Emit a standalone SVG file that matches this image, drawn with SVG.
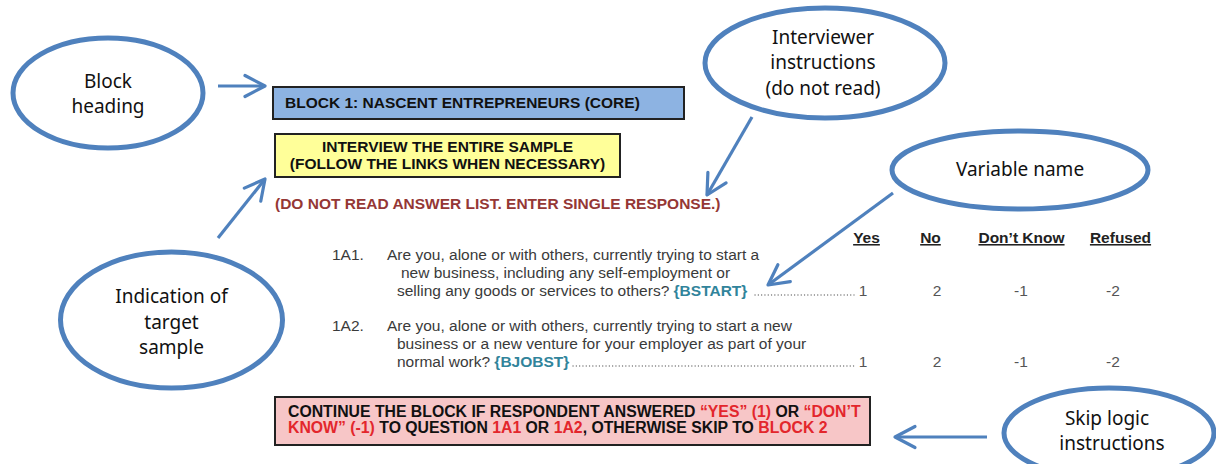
<svg xmlns="http://www.w3.org/2000/svg" width="1216" height="464" viewBox="0 0 1216 464">
<style>
.bubble{fill:#ffffff;stroke:#4f81bd;stroke-width:5}
.bt{font-family:"Noto Sans","Open Sans",sans-serif;font-size:19px;fill:#111111;text-anchor:middle}
.conn{stroke:#4f81bd;stroke-width:3.2;fill:none;marker-end:url(#chev)}
.box{stroke:#222222;stroke-width:2}
.b{font-family:"Liberation Sans",Arial,sans-serif;font-weight:bold;font-size:15.5px;fill:#111111}
.q{font-family:"Liberation Sans",Arial,sans-serif;font-size:15.5px;fill:#3a3a3a}
.var{font-weight:bold;fill:#31849b}
.red{fill:#e3262c}
.hd{font-family:"Liberation Sans",Arial,sans-serif;font-weight:bold;font-size:15.5px;fill:#222222;text-anchor:middle;text-decoration:underline}
.val{font-family:"Liberation Sans",Arial,sans-serif;font-size:15.5px;fill:#555555;text-anchor:middle}
.dots{stroke:#777777;stroke-width:1.3;stroke-dasharray:0.1 3.2;stroke-linecap:round;fill:none}
</style>
<defs>
<marker id="chev" markerUnits="userSpaceOnUse" viewBox="-24 -14 28 28" refX="0" refY="0" markerWidth="28" markerHeight="28" orient="auto">
<path d="M-20,-10.5 L0,0 L-20,10.5" fill="none" stroke="#4f81bd" stroke-width="3.2" stroke-linejoin="round" stroke-linecap="round"/>
</marker>
</defs>
<rect x="0" y="0" width="1216" height="464" fill="#ffffff"/>

<g id="connectors">
<path class="conn" d="M218,86 L265,86"/>
<path class="conn" d="M218,238 L265,179"/>
<path class="conn" d="M752,117 L707,195"/>
<path class="conn" d="M893,193 L768,285"/>
<path class="conn" d="M987,437 L895,437"/>
</g>

<g id="block-heading-note">
<ellipse class="bubble" cx="108" cy="93" rx="95" ry="55"/>
<text class="bt" x="108" y="88">Block</text>
<text class="bt" x="108" y="113">heading</text>
</g>

<g id="interviewer-note">
<ellipse class="bubble" cx="825" cy="63" rx="120" ry="55"/>
<text class="bt" x="823" y="44">Interviewer</text>
<text class="bt" x="823" y="69">instructions</text>
<text class="bt" x="823" y="95">(do not read)</text>
</g>

<g id="variable-note">
<ellipse class="bubble" cx="1020" cy="170" rx="128" ry="39"/>
<text class="bt" x="1020" y="176">Variable name</text>
</g>

<g id="target-note">
<ellipse class="bubble" cx="171.5" cy="320" rx="111" ry="68"/>
<text class="bt" x="171.5" y="303">Indication of</text>
<text class="bt" x="171.5" y="329">target</text>
<text class="bt" x="171.5" y="354">sample</text>
</g>

<g id="skip-note">
<ellipse class="bubble" cx="1109" cy="433" rx="105" ry="45"/>
<text class="bt" x="1107" y="425">Skip logic</text>
<text class="bt" x="1112" y="450">instructions</text>
</g>

<g id="block-title">
<rect class="box" x="273" y="87" width="411" height="32" fill="#8db3e2"/>
<text class="b" x="285" y="108">BLOCK 1: NASCENT ENTREPRENEURS (CORE)</text>
</g>

<g id="target-sample">
<rect class="box" x="275" y="134" width="345" height="43" fill="#ffff99"/>
<text class="b" x="447.5" y="152" text-anchor="middle">INTERVIEW THE ENTIRE SAMPLE</text>
<text class="b" x="447.5" y="169" text-anchor="middle">(FOLLOW THE LINKS WHEN NECESSARY)</text>
</g>

<g id="interviewer-instruction">
<text class="b" x="275" y="209" fill="#953735" style="fill:#953735">(DO NOT READ ANSWER LIST. ENTER SINGLE RESPONSE.)</text>
</g>

<g id="answer-header">
<text class="hd" x="866.5" y="243">Yes</text>
<text class="hd" x="930.5" y="243">No</text>
<text class="hd" x="1021.5" y="243">Don’t Know</text>
<text class="hd" x="1120.5" y="243">Refused</text>
</g>

<g id="question-1A1">
<text class="q" x="332" y="260">1A1.</text>
<text class="q" x="387" y="260">Are you, alone or with others, currently trying to start a</text>
<text class="q" x="401" y="278">new business, including any self-employment or</text>
<text class="q" x="397" y="296">selling any goods or services to others? <tspan class="var">{BSTART}</tspan></text>
<path class="dots" d="M755,295 L854,295"/>
<text class="val" x="863" y="296">1</text>
<text class="val" x="937" y="296">2</text>
<text class="val" x="1021" y="296">-1</text>
<text class="val" x="1113" y="296">-2</text>
</g>

<g id="question-1A2">
<text class="q" x="332" y="331">1A2.</text>
<text class="q" x="387" y="331">Are you, alone or with others, currently trying to start a new</text>
<text class="q" x="397" y="349">business or a new venture for your employer as part of your</text>
<text class="q" x="397" y="367">normal work? <tspan class="var">{BJOBST}</tspan></text>
<path class="dots" d="M573,366 L854,366"/>
<text class="val" x="863" y="367">1</text>
<text class="val" x="937" y="367">2</text>
<text class="val" x="1021" y="367">-1</text>
<text class="val" x="1113" y="367">-2</text>
</g>

<g id="skip-logic">
<rect class="box" x="275" y="397" width="595" height="48" fill="#f7c6c7"/>
<text class="b" x="288" y="417" style="font-size:15.8px">CONTINUE THE BLOCK IF RESPONDENT ANSWERED <tspan class="red">“YES” (1)</tspan> OR <tspan class="red">“DON’T</tspan></text>
<text class="b" x="288" y="433" style="font-size:15.8px"><tspan class="red">KNOW” (-1)</tspan> TO QUESTION <tspan class="red">1A1</tspan> OR <tspan class="red">1A2</tspan>, OTHERWISE SKIP TO <tspan class="red">BLOCK 2</tspan></text>
</g>
</svg>
